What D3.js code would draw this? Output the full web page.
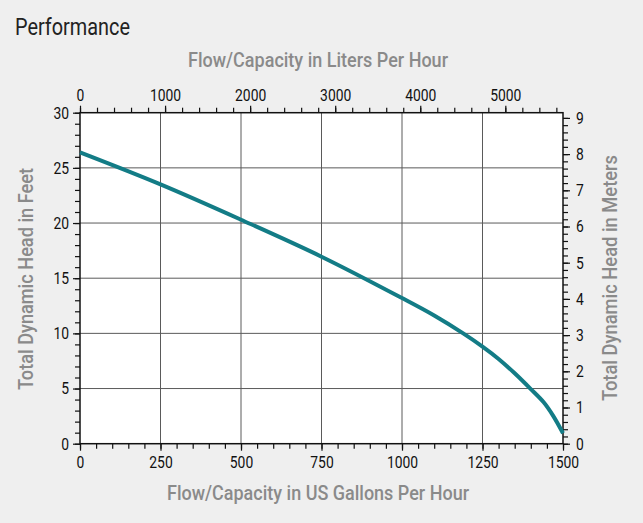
<!DOCTYPE html>
<html><head><meta charset="utf-8">
<script src="https://cdn.jsdelivr.net/npm/d3@7"></script>
<style>
html,body{margin:0;padding:0;background:#efefef;}
svg{display:block;}
text{font-family:"Roboto","Liberation Sans",sans-serif;}
</style></head><body>
<svg id="chart" width="643" height="523"></svg>
<script>
// Data: flow in US gallons per hour vs total dynamic head in feet
const flowGPH = [0, 250, 500, 750, 1000, 1100, 1190, 1250, 1300, 1350, 1400, 1440, 1470, 1500];
const headFt  = [26.4, 23.5, 20.3, 16.95, 13.2, 11.62, 10.0, 8.8, 7.68, 6.38, 4.95, 3.75, 2.5, 0.95];
const gphTicks = [0, 250, 500, 750, 1000, 1250, 1500];
const lphTicks = [0, 1000, 2000, 3000, 4000, 5000];
const ftTicks = [0, 5, 10, 15, 20, 25, 30];
const mTicks = [0, 1, 2, 3, 4, 5, 6, 7, 8, 9];
const LPH_PER_GPH = 3.78541;
const M_PER_FT = 0.3048;

const svg = d3.select("#chart");
const L = 80, T = 112.7, W = 483, H = 331;

const x = d3.scaleLinear().domain([0, 1500]).range([L, L + W]);
const xL = d3.scaleLinear().domain([0, 1500 * LPH_PER_GPH]).range([L, L + W]);
const y = d3.scaleLinear().domain([0, 30]).range([T + H, T]);
const yM = d3.scaleLinear().domain([0, 30 * M_PER_FT]).range([T + H, T]);

// title
svg.append("text").attr("x", 15).attr("y", 35).attr("font-size", 23).attr("fill", "#222")
  .attr("textLength", 115).attr("lengthAdjust", "spacingAndGlyphs").text("Performance");

// plot background
svg.append("rect").attr("x", L).attr("y", T).attr("width", W).attr("height", H).attr("fill", "#fff");

// gridlines
const grid = svg.append("g").attr("stroke", "#5a5a5a").attr("stroke-width", 1);
gphTicks.slice(1, -1).forEach(v => grid.append("line").attr("x1", x(v)).attr("x2", x(v)).attr("y1", T).attr("y2", T + H));
ftTicks.slice(1, -1).forEach(v => grid.append("line").attr("x1", L).attr("x2", L + W).attr("y1", y(v)).attr("y2", y(v)));

function styleAxis(g) {
  g.select(".domain").remove();
  g.selectAll(".tick line").attr("stroke", "#111").attr("stroke-width", 1.2);
  g.selectAll(".tick text").attr("fill", "#111").attr("font-size", 17)
    .attr("textLength", d => String(d).length * 7.8).attr("lengthAdjust", "spacingAndGlyphs");
}

// minor ticks
function minor(axisFn, scale, vals, pos) {
  svg.append("g").attr("transform", pos)
    .call(axisFn(scale).tickValues(vals).tickSize(5).tickFormat(""))
    .call(g => { g.select(".domain").remove(); g.selectAll(".tick line").attr("stroke", "#111").attr("stroke-width", 1.2); });
}
minor(d3.axisBottom, x, d3.range(0, 1501, 50), `translate(0,${T + H})`);
minor(d3.axisTop, xL, d3.range(0, 5601, 200), `translate(0,${T})`);
minor(d3.axisLeft, y, d3.range(0, 31, 1), `translate(${L},0)`);
minor(d3.axisRight, yM, d3.range(0, 9.01, 0.2), `translate(${L + W},0)`);

const fmt = d3.format("d");
// major axes
svg.append("g").attr("transform", `translate(0,${T + H})`)
  .call(d3.axisBottom(x).tickValues(gphTicks).tickFormat(fmt).tickSize(7).tickPadding(5)).call(styleAxis);
svg.append("g").attr("transform", `translate(0,${T})`)
  .call(d3.axisTop(xL).tickValues(lphTicks).tickFormat(fmt).tickSize(7).tickPadding(5)).call(styleAxis);
svg.append("g").attr("transform", `translate(${L},0)`)
  .call(d3.axisLeft(y).tickValues(ftTicks).tickFormat(fmt).tickSize(7).tickPadding(4)).call(styleAxis);
svg.append("g").attr("transform", `translate(${L + W},0)`)
  .call(d3.axisRight(yM).tickValues(mTicks).tickFormat(fmt).tickSize(7).tickPadding(6)).call(styleAxis);

// frame
svg.append("rect").attr("x", L).attr("y", T).attr("width", W).attr("height", H)
  .attr("fill", "none").attr("stroke", "#111").attr("stroke-width", 1.5);

// curve
const line = d3.line().x((d, i) => x(flowGPH[i])).y(d => y(d)).curve(d3.curveCatmullRom.alpha(0.5));
svg.append("path").attr("d", line(headFt)).attr("fill", "none")
  .attr("stroke", "#137c86").attr("stroke-width", 4).attr("stroke-linecap", "butt");

// axis titles
const tcol = "#8a8a8a";
function title(sel, len) {
  return sel.attr("text-anchor", "middle").attr("font-size", 20).attr("font-weight", 500)
    .attr("fill", tcol).attr("textLength", len).attr("lengthAdjust", "spacingAndGlyphs");
}
title(svg.append("text").attr("x", 318).attr("y", 66.5), 260).text("Flow/Capacity in Liters Per Hour");
title(svg.append("text").attr("x", 318).attr("y", 500), 302).text("Flow/Capacity in US Gallons Per Hour");
title(svg.append("text").attr("transform", "translate(33,279) rotate(-90)"), 222).text("Total Dynamic Head in Feet");
title(svg.append("text").attr("transform", "translate(617,278) rotate(-90)"), 246).text("Total Dynamic Head in Meters");
</script></body></html>
